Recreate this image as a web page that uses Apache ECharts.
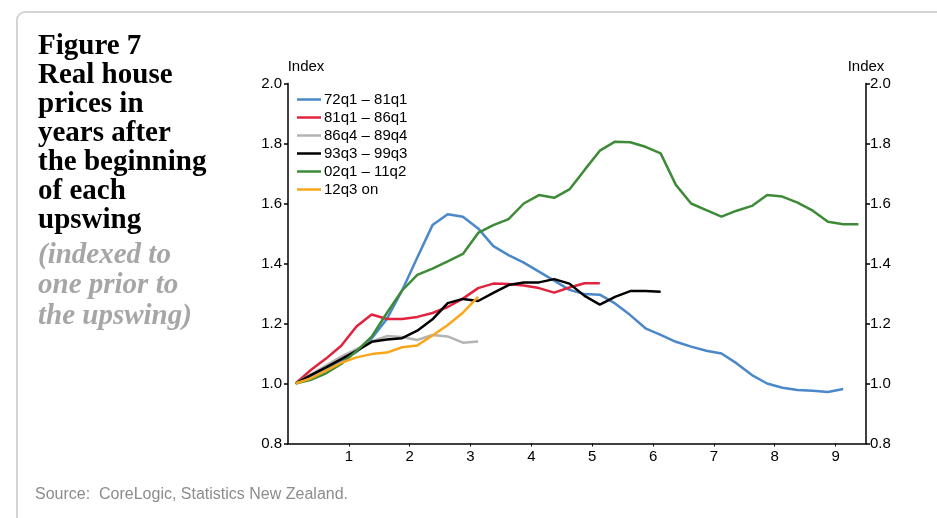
<!DOCTYPE html>
<html>
<head>
<meta charset="utf-8">
<script src="https://cdn.jsdelivr.net/npm/echarts@6/dist/echarts.min.js"></script>
<style>
html,body{margin:0;padding:0;background:#fff;}
#c{width:937px;height:518px;}
</style>
</head>
<body>
<div id="c"></div>
<script>
// ---- Data (quarters after start of each upswing; value index = 1 one quarter prior) ----
const seriesNames = ['72q1 – 81q1', '81q1 – 86q1', '86q4 – 89q4', '93q3 – 99q3', '02q1 – 11q2', '12q3 on'];
const seriesColors = ['#4a88c9', '#e2233f', '#b3b3b3', '#000000', '#3d8a37', '#f8a61c'];

const up72 = [1.0, 1.025, 1.05, 1.075, 1.105, 1.15, 1.215, 1.31, 1.42, 1.528, 1.564, 1.556, 1.517, 1.458,
  1.428, 1.403, 1.373, 1.343, 1.312, 1.298, 1.296, 1.267, 1.228, 1.184, 1.162, 1.139, 1.123, 1.109, 1.10,
  1.067, 1.028, 1.0, 0.986, 0.978, 0.976, 0.972, 0.982];
const up81 = [1.0, 1.045, 1.083, 1.126, 1.19, 1.23, 1.215, 1.215, 1.222, 1.235, 1.255, 1.283, 1.318, 1.333,
  1.332, 1.327, 1.318, 1.303, 1.32, 1.334, 1.334];
const up86 = [1.0, 1.03, 1.06, 1.09, 1.115, 1.14, 1.158, 1.155, 1.145, 1.162, 1.157, 1.136, 1.14];
const up93 = [1.0, 1.028, 1.054, 1.081, 1.109, 1.139, 1.147, 1.151, 1.176, 1.214, 1.268, 1.282, 1.275, 1.302,
  1.328, 1.337, 1.337, 1.348, 1.333, 1.292, 1.263, 1.289, 1.308, 1.308, 1.306];
const up02 = [1.0, 1.012, 1.034, 1.065, 1.108, 1.156, 1.235, 1.31, 1.362, 1.383, 1.407, 1.432, 1.502, 1.528,
  1.548, 1.60, 1.628, 1.619, 1.647, 1.712, 1.776, 1.806, 1.804, 1.789, 1.767, 1.662, 1.60, 1.578, 1.556,
  1.576, 1.592, 1.628, 1.623, 1.603, 1.576, 1.539, 1.531, 1.531];
const up12 = [1.0, 1.017, 1.043, 1.069, 1.087, 1.098, 1.103, 1.121, 1.127, 1.16, 1.195, 1.236, 1.289];

const allValues = [up72, up81, up86, up93, up02, up12];
const xTickLabels = ['1', '2', '3', '4', '5', '6', '7', '8', '9'];
const titleLines = ['Figure 7', 'Real house', 'prices in', 'years after', 'the beginning', 'of each', 'upswing'];
const subtitleLines = ['(indexed to', 'one prior to', 'the upswing)'];
const sourceText = 'Source:  CoreLogic, Statistics New Zealand.';

// ---- Chart ----
const chart = echarts.init(document.getElementById('c'), null, {renderer: 'canvas'});
const axisFont = {fontFamily: 'Liberation Sans, Arial, sans-serif', fontSize: 15, color: '#000'};

const graphics = [
  {type: 'rect', shape: {x: 17, y: 12, width: 1000, height: 600, r: 8},
   style: {fill: 'none', stroke: '#d4d4d4', lineWidth: 2}, silent: true}
];
titleLines.forEach((t, i) => {
  graphics.push({type: 'text', left: 38, top: 32 + i * 29,
    style: {text: t, font: 'bold 29px "Liberation Serif", serif', fill: '#000'}});
});
subtitleLines.forEach((t, i) => {
  graphics.push({type: 'text', left: 38, top: 32 + 7 * 29 + 6 + i * 30.5,
    style: {text: t, font: 'italic bold 29px "Liberation Serif", serif', fill: '#a6a6a6'}});
});
graphics.push({type: 'text', left: 35, top: 487,
  style: {text: sourceText, font: '16px "Liberation Sans", Arial, sans-serif', fill: '#8c8c8c'}});
graphics.push({type: 'text', x: 306, y: 67,
  style: {text: 'Index', font: '15px "Liberation Sans", Arial, sans-serif', fill: '#000', align: 'center', verticalAlign: 'middle'}});
graphics.push({type: 'text', x: 866, y: 67,
  style: {text: 'Index', font: '15px "Liberation Sans", Arial, sans-serif', fill: '#000', align: 'center', verticalAlign: 'middle'}});

const yAxisCommon = {
  type: 'value', min: 0.8, max: 2.0, interval: 0.2,
  axisLine: {show: true, lineStyle: {color: '#000', width: 1.5}},
  axisTick: {show: true, length: 4, lineStyle: {color: '#000', width: 1.5}},
  splitLine: {show: false},
  axisLabel: Object.assign({formatter: v => v.toFixed(1)}, axisFont)
};

const option = {
  backgroundColor: '#fff',
  animation: false,
  graphic: graphics,
  grid: {left: 288, right: 71, top: 83.5, bottom: 74.5, containLabel: false},
  legend: {
    orient: 'vertical', left: 297, top: 90.5, padding: 0,
    icon: 'rect', itemWidth: 24, itemHeight: 2.5, itemGap: 0,
    textStyle: {fontFamily: 'Liberation Sans, Arial, sans-serif', fontSize: 15, color: '#000', lineHeight: 18, padding: [0, 0, 0, -2]},
    data: seriesNames
  },
  xAxis: {
    type: 'value', min: 0, max: 9.5, interval: 1,
    axisLine: {show: true, onZero: false, lineStyle: {color: '#000', width: 1.5}},
    axisTick: {show: true, length: 3, lineStyle: {color: '#000', width: 1}},
    splitLine: {show: false},
    axisLabel: Object.assign({margin: 6, showMinLabel: false, showMaxLabel: false,
      formatter: v => (v >= 1 && v <= 9 ? xTickLabels[v - 1] : '')}, axisFont)
  },
  yAxis: [
    Object.assign({}, yAxisCommon, {position: 'left', axisLabel: Object.assign({}, yAxisCommon.axisLabel, {margin: 6})}),
    Object.assign({}, yAxisCommon, {position: 'right', axisLabel: Object.assign({}, yAxisCommon.axisLabel, {margin: 4})})
  ],
  series: allValues.map((vals, k) => ({
    name: seriesNames[k],
    type: 'line',
    yAxisIndex: 0,
    symbol: 'none',
    smooth: false,
    color: seriesColors[k],
    lineStyle: {width: 2.5, color: seriesColors[k]},
    data: vals.map((v, i) => [(i + 0.5) / 4, v])
  }))
};
chart.setOption(option);
</script>
</body>
</html>
